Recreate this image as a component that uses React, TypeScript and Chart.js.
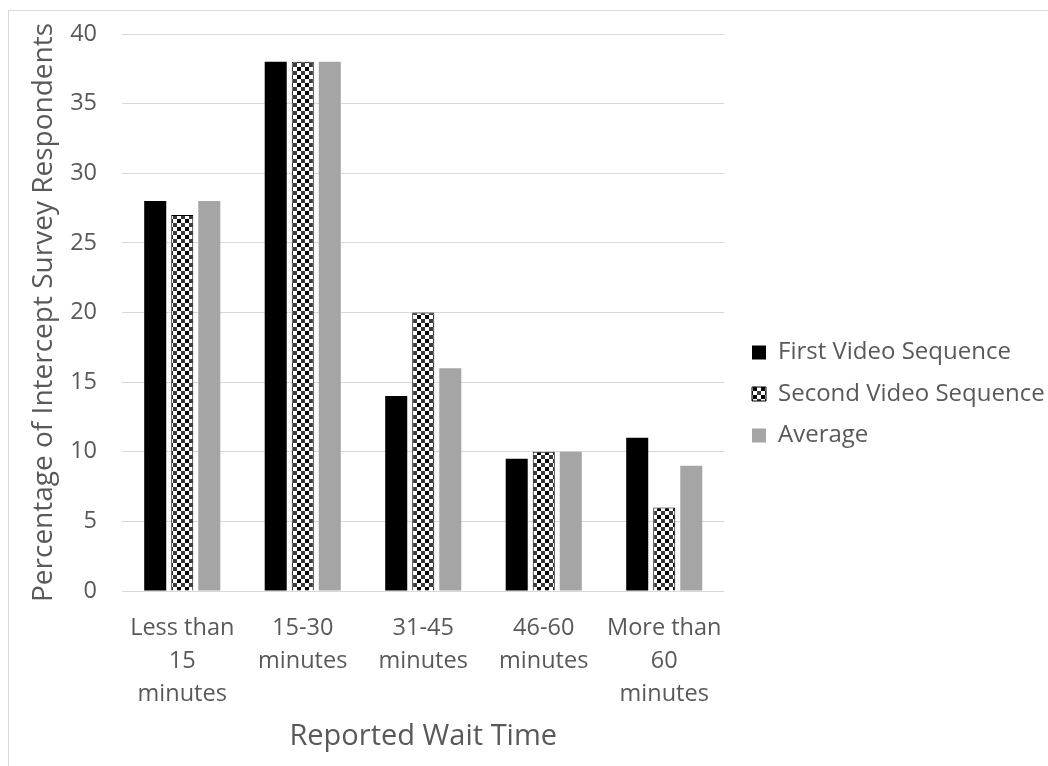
import React, { useEffect, useRef } from "react";
import { Chart, registerables } from "chart.js";

Chart.register(...registerables);

const categories: string[][] = [
  ["Less than", "15", "minutes"],
  ["15-30", "minutes"],
  ["31-45", "minutes"],
  ["46-60", "minutes"],
  ["More than", "60", "minutes"],
];
const seriesNames = ["First Video Sequence", "Second Video Sequence", "Average"];
const firstVideo = [28, 38, 14, 9.5, 11];
const secondVideo = [27, 38, 20, 10, 6];
const average = [28, 38, 16, 10, 9];
const yMin = 0;
const yMax = 40;
const yStep = 5;
const xTitle = "Reported Wait Time";
const yTitle = "Percentage of Intercept Survey Respondents";

const FONT = "'Open Sans', 'Noto Sans', sans-serif";
const TEXT = "#595959";
const GRID = "#d9d9d9";

function makeChecker(): CanvasPattern | string {
  const c = document.createElement("canvas");
  c.width = 8;
  c.height = 8;
  const g = c.getContext("2d");
  if (!g) return "#000";
  g.fillStyle = "#ffffff";
  g.fillRect(0, 0, 8, 8);
  g.fillStyle = "#000000";
  g.fillRect(0, 0, 4, 4);
  g.fillStyle = "#3a3a3a";
  g.fillRect(4, 4, 4, 4);
  const p = g.createPattern(c, "repeat");
  return p || "#000";
}

export default function App() {
  const ref = useRef<HTMLCanvasElement | null>(null);

  useEffect(() => {
    if (!ref.current) return;
    const checker = makeChecker();
    const chart = new Chart(ref.current, {
      type: "bar",
      data: {
        labels: categories,
        datasets: [
          {
            label: seriesNames[0],
            data: firstVideo,
            backgroundColor: "#000000",
            borderWidth: 0,
          },
          {
            label: seriesNames[1],
            data: secondVideo,
            backgroundColor: checker as any,
            borderColor: "#000000",
            borderWidth: 1,
          },
          {
            label: seriesNames[2],
            data: average,
            backgroundColor: "#a5a5a5",
            borderWidth: 0,
          },
        ],
      },
      options: {
        animation: false,
        responsive: false,
        maintainAspectRatio: false,
        layout: { padding: { top: 23, left: 0, right: 0, bottom: 12 } },
        datasets: {
          bar: {
            categoryPercentage: 0.673,
            barPercentage: 0.815,
          },
        },
        scales: {
          x: {
            grid: { display: false },
            border: { display: false },
            ticks: {
              color: TEXT,
              font: { family: FONT, size: 23.5, lineHeight: 1.4 },
              padding: 13,
              maxRotation: 0,
              autoSkip: false,
            },
            title: {
              display: true,
              text: xTitle,
              color: TEXT,
              font: { family: FONT, size: 29 },
              padding: { top: 0, bottom: 0 },
            },
            afterFit: (s: any) => {
              s.height = 163;
            },
          },
          y: {
            min: yMin,
            max: yMax,
            grid: {
              color: GRID,
              lineWidth: 1,
              drawTicks: true,
              tickLength: 25,
              tickColor: "rgba(0,0,0,0)",
            },
            border: { display: false },
            ticks: {
              stepSize: yStep,
              color: TEXT,
              font: { family: FONT, size: 23.5 },
              padding: 0,
            },
            title: {
              display: true,
              text: yTitle,
              color: TEXT,
              font: { family: FONT, size: 28 },
              padding: { top: 18, bottom: 0 },
            },
            afterFit: (s: any) => {
              s.width = 113;
            },
          },
          spacer: {
            type: "linear",
            position: "right",
            display: true,
            grid: { display: false },
            border: { display: false },
            ticks: { display: false },
            afterFit: (s: any) => {
              s.width = 10;
            },
          },
        },
        plugins: {
          legend: {
            position: "right",
            maxWidth: 313.5,
            labels: {
              color: TEXT,
              font: { family: FONT, size: 24 },
              boxWidth: 14,
              boxHeight: 14,
              padding: 17.5,
            },
          },
          tooltip: { enabled: false },
        },
      } as any,
    });
    return () => chart.destroy();
  }, []);

  return (
    <div
      style={{
        position: "absolute",
        left: 8,
        top: 10,
        width: 1040,
        height: 756,
        borderLeft: "1px solid #d9d9d9",
        borderTop: "1px solid #d9d9d9",
        boxSizing: "border-box",
        background: "#fff",
      }}
    >
      <canvas ref={ref} width={1039} height={755} style={{ display: "block" }} />
    </div>
  );
}
